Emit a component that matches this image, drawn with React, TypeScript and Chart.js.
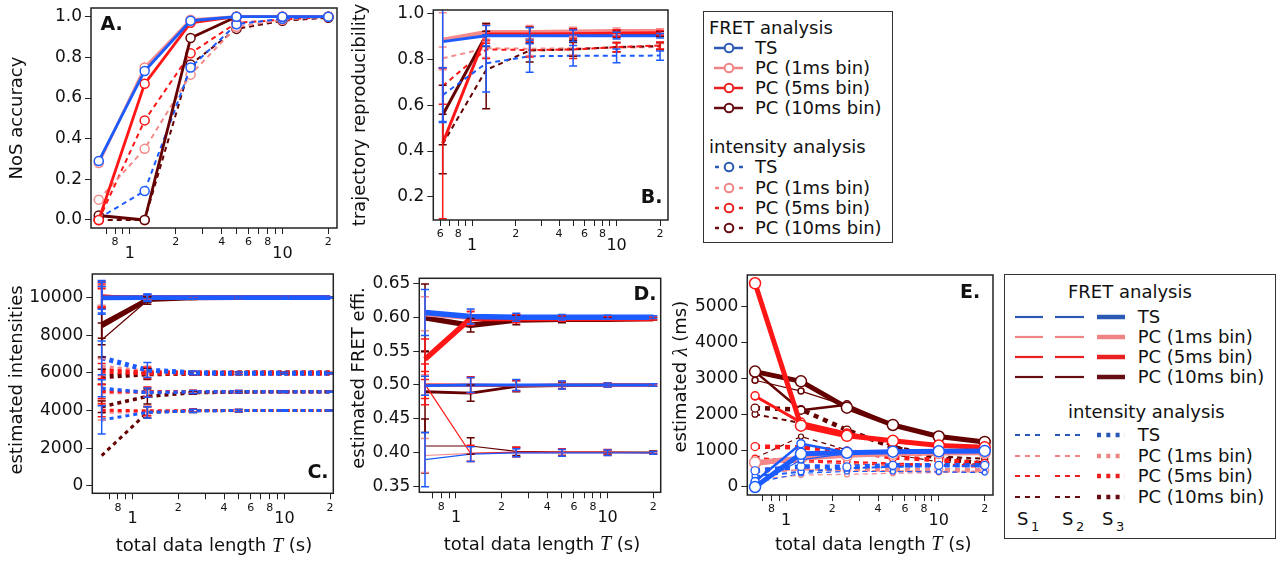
import React, { useEffect, useRef } from 'react';
import { Chart, registerables } from 'chart.js';

Chart.register(...registerables);

const SANS = '"DejaVu Sans", "Liberation Sans", Arial, sans-serif';
const SERIF = '"Liberation Serif", "DejaVu Serif", serif';

// ---------- shared x data ----------
const T_LENGTHS = [0.625, 1.25, 2.5, 5, 10, 20];
const X_TICKS = [0.7, 0.8, 0.9, 1, 2, 3, 4, 5, 6, 7, 8, 9, 10, 20];
const X_TICKS_B = [0.6, 0.7, 0.8, 0.9, 1, 2, 3, 4, 5, 6, 7, 8, 9, 10, 20];
const X_SMALL_LABELS: Record<string, string> = { '0.6': '6', '0.8': '8', '2': '2', '4': '4', '6': '6', '8': '8', '20': '2' };
const X_BIG_LABELS = [1, 10];

const METHODS = ['TS', 'PC (1ms bin)', 'PC (5ms bin)', 'PC (10ms bin)'];
const PLOT_COLORS = ['#1b5bff', '#f58a8a', '#ff1616', '#640000'];
const LEGEND_COLORS = ['#2b59b3', '#f08484', '#ea2020', '#650d12'];

// ---------- Panel A: NoS accuracy ----------
const A_Y_TICKS = [0, 0.2, 0.4, 0.6, 0.8, 1.0];
const ACC_FRET_TS = [0.29, 0.733, 0.98, 1.0, 1.0, 1.0];
const ACC_FRET_PC1 = [0.28, 0.75, 0.985, 1.0, 1.0, 1.0];
const ACC_FRET_PC5 = [0.0, 0.67, 0.97, 1.0, 1.0, 1.0];
const ACC_FRET_PC10 = [0.022, 0.0, 0.895, 1.0, 1.0, 1.0];
const ACC_INT_TS = [0.008, 0.143, 0.75, 0.963, 0.99, 1.0];
const ACC_INT_PC1 = [0.1, 0.35, 0.715, 0.95, 0.985, 1.0];
const ACC_INT_PC5 = [0.0, 0.49, 0.82, 0.97, 0.985, 1.0];
const ACC_INT_PC10 = [0.0, 0.0, 0.765, 0.94, 0.98, 0.995];

// ---------- Panel B: trajectory reproducibility ----------
const B_Y_TICKS = [0.2, 0.4, 0.6, 0.8, 1.0];
const REP_FRET_TS = [0.879, 0.905, 0.905, 0.905, 0.905, 0.905];
const REP_FRET_TS_ERR = [0.35, 0.045, 0.035, 0.025, 0.015, 0.01];
const REP_FRET_PC1 = [0.886, 0.92, 0.92, 0.922, 0.924, 0.925];
const REP_FRET_PC1_ERR = [0.12, 0.04, 0.03, 0.02, 0.015, 0.01];
const REP_FRET_PC5 = [0.434, 0.912, 0.912, 0.914, 0.916, 0.918];
const REP_FRET_PC5_ERR = [0.33, 0.04, 0.03, 0.02, 0.015, 0.01];
const REP_FRET_PC10 = [0.558, 0.908, 0.908, 0.91, 0.912, 0.913];
const REP_FRET_PC10_ERR = [0.13, 0.05, 0.035, 0.025, 0.015, 0.01];
const REP_INT_TS = [0.645, 0.784, 0.815, 0.817, 0.817, 0.818];
const REP_INT_TS_ERR = [0.12, 0.125, 0.07, 0.045, 0.03, 0.02];
const REP_INT_PC1 = [0.806, 0.85, 0.848, 0.85, 0.852, 0.856];
const REP_INT_PC1_ERR = [0.05, 0.04, 0.03, 0.03, 0.02, 0.015];
const REP_INT_PC5 = [0.685, 0.845, 0.842, 0.845, 0.855, 0.862];
const REP_INT_PC5_ERR = [0.08, 0.04, 0.03, 0.04, 0.02, 0.015];
const REP_INT_PC10 = [0.431, 0.755, 0.84, 0.845, 0.855, 0.86];
const REP_INT_PC10_ERR = [0.13, 0.17, 0.05, 0.03, 0.02, 0.015];

// ---------- Panel C: estimated intensities (rows: S1, S2, S3) ----------
const C_Y_TICKS = [0, 2000, 4000, 6000, 8000, 10000];
const C_FRET_TS = [[10000, 10000, 10000, 10000, 10000, 10000], [10020, 10010, 10000, 10000, 10000, 10000], [9990, 10000, 10000, 10000, 10000, 10000]];
const C_FRET_TS_ERR = [[820, 200, 80, 50, 30, 20], [900, 180, 70, 45, 30, 20], [600, 150, 60, 40, 25, 15]];
const C_FRET_PC1 = [[10050, 10000, 10000, 10000, 10000, 10000], [10100, 10000, 10000, 10000, 10000, 10000], [10000, 10000, 10000, 10000, 10000, 10000]];
const C_FRET_PC1_ERR = [[600, 150, 70, 45, 30, 20], [500, 150, 70, 45, 30, 20], [450, 130, 60, 40, 25, 15]];
const C_FRET_PC5 = [[10150, 9980, 10000, 10000, 10000, 10000], [10080, 9990, 10000, 10000, 10000, 10000], [10000, 10000, 10000, 10000, 10000, 10000]];
const C_FRET_PC5_ERR = [[700, 160, 70, 45, 30, 20], [650, 150, 70, 45, 30, 20], [500, 140, 60, 40, 25, 15]];
const C_FRET_PC10 = [[7750, 9850, 9980, 10000, 10000, 10000], [8650, 9950, 10000, 10000, 10000, 10000], [8500, 9900, 9990, 10000, 10000, 10000]];
const C_FRET_PC10_ERR = [[900, 200, 80, 50, 30, 20], [800, 180, 70, 45, 30, 20], [1000, 160, 60, 40, 25, 15]];
const C_INT_TS = [[3500, 3900, 3980, 4000, 4000, 4000], [5180, 4950, 4990, 5000, 5000, 5000], [6800, 6150, 6000, 5980, 5980, 5980]];
const C_INT_TS_ERR = [[750, 300, 90, 60, 40, 30], [450, 250, 80, 60, 40, 30], [900, 400, 100, 70, 50, 30]];
const C_INT_PC1 = [[3900, 3950, 4000, 4000, 4000, 4000], [4950, 4980, 5000, 5000, 5000, 5000], [6300, 6050, 6000, 5990, 5990, 5990]];
const C_INT_PC1_ERR = [[400, 250, 90, 60, 40, 30], [400, 250, 80, 60, 40, 30], [450, 300, 100, 70, 50, 30]];
const C_INT_PC5 = [[4020, 3980, 4000, 4000, 4000, 4000], [5020, 5000, 5000, 5000, 5000, 5000], [6100, 6000, 5990, 5990, 5990, 5990]];
const C_INT_PC5_ERR = [[350, 250, 90, 60, 40, 30], [380, 250, 80, 60, 40, 30], [400, 300, 100, 70, 50, 30]];
const C_INT_PC10 = [[1600, 3900, 3980, 4000, 4000, 4000], [4200, 4750, 4950, 4980, 5000, 5000], [5800, 5950, 5980, 5990, 5990, 5990]];
const C_INT_PC10_ERR = [[0, 300, 90, 60, 40, 30], [300, 400, 80, 60, 40, 30], [400, 300, 100, 70, 50, 30]];

// ---------- Panel D: estimated FRET efficiency (rows: S1, S2, S3) ----------
const D_Y_TICKS = [0.35, 0.4, 0.45, 0.5, 0.55, 0.6, 0.65];
const D_TS = [[0.39, 0.398, 0.4, 0.4, 0.4, 0.4], [0.499, 0.5, 0.5, 0.5, 0.5, 0.5], [0.607, 0.601, 0.6, 0.6, 0.6, 0.6]];
const D_TS_ERR = [[0.04, 0.011, 0.006, 0.005, 0.004, 0.002], [0.014, 0.011, 0.008, 0.006, 0.003, 0.002], [0.034, 0.011, 0.006, 0.004, 0.003, 0.002]];
const D_PC1 = [[0.396, 0.399, 0.4, 0.4, 0.4, 0.4], [0.5, 0.499, 0.499, 0.5, 0.5, 0.5], [0.605, 0.6, 0.599, 0.599, 0.599, 0.599]];
const D_PC1_ERR = [[0.025, 0.011, 0.006, 0.005, 0.004, 0.002], [0.015, 0.011, 0.007, 0.005, 0.003, 0.002], [0.025, 0.01, 0.006, 0.004, 0.003, 0.002]];
const D_PC5 = [[0.501, 0.399, 0.401, 0.401, 0.401, 0.4], [0.5, 0.5, 0.499, 0.5, 0.5, 0.5], [0.538, 0.598, 0.598, 0.598, 0.598, 0.598]];
const D_PC5_ERR = [[0.03, 0.012, 0.007, 0.005, 0.004, 0.002], [0.02, 0.012, 0.008, 0.005, 0.003, 0.002], [0.03, 0.01, 0.006, 0.004, 0.003, 0.002]];
const D_PC10 = [[0.41, 0.41, 0.402, 0.401, 0.401, 0.401], [0.49, 0.488, 0.498, 0.499, 0.5, 0.5], [0.599, 0.588, 0.596, 0.597, 0.597, 0.598]];
const D_PC10_ERR = [[0.04, 0.012, 0.006, 0.005, 0.003, 0.002], [0.06, 0.012, 0.008, 0.005, 0.003, 0.002], [0.05, 0.01, 0.007, 0.005, 0.003, 0.002]];

// ---------- Panel E: estimated lambda in ms (rows: S1, S2, S3) ----------
const E_Y_TICKS = [0, 1000, 2000, 3000, 4000, 5000];
const E_FRET_TS = [[50, 750, 930, 950, 960, 970], [150, 1200, 960, 960, 970, 980], [0, 920, 950, 980, 990, 1000]];
const E_FRET_PC1 = [[600, 760, 850, 890, 910, 920], [620, 780, 860, 900, 920, 930], [680, 800, 880, 920, 940, 950]];
const E_FRET_PC5 = [[2500, 1760, 1480, 1240, 1140, 1080], [2530, 1800, 1500, 1250, 1150, 1100], [5650, 1700, 1420, 1280, 1150, 1100]];
const E_FRET_PC10 = [[2960, 2660, 2250, 1700, 1390, 1230], [3200, 2130, 2280, 1720, 1400, 1240], [3200, 2930, 2200, 1720, 1400, 1250]];
const E_INT_TS = [[120, 380, 430, 430, 420, 400], [300, 420, 520, 560, 580, 590], [450, 570, 560, 600, 600, 600]];
const E_INT_PC1 = [[200, 330, 350, 380, 400, 420], [400, 470, 450, 440, 430, 430], [480, 520, 500, 480, 470, 460]];
const E_INT_PC5 = [[650, 700, 650, 600, 580, 550], [800, 740, 700, 650, 620, 600], [1120, 1100, 1000, 820, 750, 650]];
const E_INT_PC10 = [[800, 1400, 1030, 900, 700, 620], [2020, 1770, 1500, 1150, 850, 780], [2190, 2150, 1580, 1100, 800, 650]];

// ---------- helpers ----------
function line(values: number[], color: string, width: number, opts: any = {}) {
  return {
    data: values.map((y, i) => ({ x: T_LENGTHS[i], y })),
    borderColor: color,
    backgroundColor: '#ffffff',
    borderWidth: width,
    borderDash: opts.dash || [],
    borderCapStyle: 'butt',
    borderJoinStyle: 'round',
    pointRadius: opts.radius || 0,
    pointBorderWidth: opts.pointBorder || 1.5,
    pointBorderColor: color,
    pointBackgroundColor: '#ffffff',
    fill: false,
    tension: 0,
    errors: opts.errors,
  };
}

const framePlugin = {
  id: 'frame',
  afterDraw(chart: any) {
    const { ctx, chartArea: a } = chart;
    ctx.save();
    ctx.strokeStyle = '#222';
    ctx.lineWidth = 1.5;
    ctx.setLineDash([]);
    ctx.strokeRect(a.left, a.top, a.right - a.left, a.bottom - a.top);
    ctx.restore();
  },
};

const errorBarPlugin = {
  id: 'errorBars',
  afterDatasetsDraw(chart: any) {
    const { ctx, chartArea: a, scales } = chart;
    const xs = scales.x;
    const ys = scales.y;
    ctx.save();
    ctx.beginPath();
    ctx.rect(a.left, a.top, a.right - a.left, a.bottom - a.top);
    ctx.clip();
    ctx.setLineDash([]);
    for (let i = chart.data.datasets.length - 1; i >= 0; i--) {
      const d = chart.data.datasets[i];
      if (!d.errors) continue;
      ctx.strokeStyle = d.borderColor;
      ctx.lineWidth = 1.5;
      d.data.forEach((p: any, j: number) => {
        const e = d.errors[j];
        if (!e) return;
        const x = xs.getPixelForValue(p.x);
        const y1 = ys.getPixelForValue(p.y - e);
        const y2 = ys.getPixelForValue(p.y + e);
        ctx.beginPath();
        ctx.moveTo(x, y1);
        ctx.lineTo(x, y2);
        ctx.moveTo(x - 4, y1);
        ctx.lineTo(x + 4, y1);
        ctx.moveTo(x - 4, y2);
        ctx.lineTo(x + 4, y2);
        ctx.stroke();
      });
    }
    ctx.restore();
  },
};

function drawRich(ctx: any, segs: any[], cx: number, cy: number, rotate: boolean) {
  ctx.save();
  ctx.translate(cx, cy);
  if (rotate) ctx.rotate(-Math.PI / 2);
  const fonts = segs.map((s) => (s.italic ? `italic 20px ${SERIF}` : `18px ${SANS}`));
  let total = 0;
  const widths = segs.map((s, i) => {
    ctx.font = fonts[i];
    const w = ctx.measureText(s.text).width;
    total += w;
    return w;
  });
  let x = -total / 2;
  ctx.textAlign = 'left';
  ctx.textBaseline = 'middle';
  ctx.fillStyle = '#111';
  segs.forEach((s, i) => {
    ctx.font = fonts[i];
    ctx.fillText(s.text, x, 0);
    x += widths[i];
  });
  ctx.restore();
}

const X_TITLE = [{ text: 'total data length ' }, { text: 'T', italic: true }, { text: ' (s)' }];

function textPlugin(spec: any) {
  return {
    id: 'panelText',
    afterDraw(chart: any) {
      const ctx = chart.ctx;
      const ox = spec.canvas.left;
      const oy = spec.canvas.top;
      const xs = chart.scales.x;
      const bottom = chart.chartArea.bottom;
      ctx.save();
      ctx.fillStyle = '#111';
      ctx.textAlign = 'center';
      ctx.textBaseline = 'middle';
      ctx.font = `16px ${SANS}`;
      X_BIG_LABELS.forEach((v) => ctx.fillText(String(v), xs.getPixelForValue(v), bottom + 26));
      ctx.font = `bold 19px ${SANS}`;
      ctx.fillText(spec.letter.text, spec.letter.x - ox, spec.letter.y - oy);
      ctx.restore();
      drawRich(ctx, spec.yTitle, spec.yTitlePos.x - ox, spec.yTitlePos.y - oy, true);
      if (spec.xTitlePos) drawRich(ctx, X_TITLE, spec.xTitlePos.x - ox, spec.xTitlePos.y - oy, false);
    },
  };
}

function buildConfig(spec: any) {
  const c = spec.canvas;
  const p = spec.plot;
  const yAxisW = p.left - c.left;
  const xAxisH = c.top + c.height - p.bottom;
  return {
    type: 'line',
    data: { datasets: spec.datasets },
    options: {
      responsive: false,
      animation: false,
      devicePixelRatio: 1,
      events: [],
      layout: { padding: { left: 0, top: p.top - c.top, right: c.left + c.width - p.right, bottom: 0 } },
      plugins: { legend: { display: false }, tooltip: { enabled: false } },
      scales: {
        x: {
          type: 'logarithmic',
          min: spec.xMin,
          max: spec.xMax,
          afterBuildTicks: (s: any) => {
            s.ticks = spec.xTicks.map((v: number) => ({ value: v }));
          },
          afterFit: (s: any) => {
            s.height = xAxisH;
            s.paddingLeft = 0;
            s.paddingRight = 0;
          },
          ticks: {
            autoSkip: false,
            maxRotation: 0,
            minRotation: 0,
            padding: 2,
            color: '#111',
            font: { family: SANS, size: 11 },
            callback: (v: number) => X_SMALL_LABELS[String(v)] ?? '',
          },
          grid: { display: true, drawOnChartArea: false, drawTicks: true, tickLength: 6, color: '#222', lineWidth: 1 },
          border: { display: false },
        },
        y: {
          type: 'linear',
          min: spec.yMin,
          max: spec.yMax,
          afterBuildTicks: (s: any) => {
            s.ticks = spec.yTicks.map((v: number) => ({ value: v }));
          },
          afterFit: (s: any) => {
            s.width = yAxisW;
            s.paddingTop = 0;
            s.paddingBottom = 0;
          },
          ticks: {
            padding: 3,
            color: '#111',
            font: { family: SANS, size: 17 },
            callback: (v: number) => spec.yFmt(v),
          },
          grid: { display: true, drawOnChartArea: false, drawTicks: true, tickLength: 6, color: '#222', lineWidth: 1 },
          border: { display: false },
        },
      },
    },
    plugins: [framePlugin, errorBarPlugin, textPlugin(spec)],
  };
}

// ---------- dataset assembly ----------
const [BLUE, LIGHT, RED, DARK] = PLOT_COLORS;
const DASH = [5, 4];

const datasetsA = [
  line(ACC_FRET_TS, BLUE, 2.8, { radius: 4.5 }),
  line(ACC_FRET_PC1, LIGHT, 2.8, { radius: 4.5 }),
  line(ACC_FRET_PC5, RED, 2.8, { radius: 4.5 }),
  line(ACC_FRET_PC10, DARK, 2.8, { radius: 4.5 }),
  line(ACC_INT_TS, BLUE, 2, { radius: 4.5, dash: DASH }),
  line(ACC_INT_PC1, LIGHT, 2, { radius: 4.5, dash: DASH }),
  line(ACC_INT_PC5, RED, 2, { radius: 4.5, dash: DASH }),
  line(ACC_INT_PC10, DARK, 2, { radius: 4.5, dash: DASH }),
];

const datasetsB = [
  line(REP_FRET_TS, BLUE, 3, { errors: REP_FRET_TS_ERR }),
  line(REP_INT_TS, BLUE, 2, { dash: DASH, errors: REP_INT_TS_ERR }),
  line(REP_FRET_PC5, RED, 3, { errors: REP_FRET_PC5_ERR }),
  line(REP_FRET_PC10, DARK, 3, { errors: REP_FRET_PC10_ERR }),
  line(REP_FRET_PC1, LIGHT, 4.5, { errors: REP_FRET_PC1_ERR }),
  line(REP_INT_PC5, RED, 2, { dash: DASH, errors: REP_INT_PC5_ERR }),
  line(REP_INT_PC10, DARK, 2, { dash: DASH, errors: REP_INT_PC10_ERR }),
  line(REP_INT_PC1, LIGHT, 2, { dash: DASH, errors: REP_INT_PC1_ERR }),
];

const STATE_W_SOLID = [1.2, 2.5, 4.8];
const C_DOT_W = [3, 3.5, 5];

function stateSets(rows: number[][], errs: number[][] | null, color: string, widths: number[], opts: (s: number) => any) {
  return [2, 1, 0].map((s) => line(rows[s], color, widths[s], { ...opts(s), errors: errs ? errs[s] : undefined }));
}

const datasetsC = [
  ...stateSets(C_FRET_TS, C_FRET_TS_ERR, BLUE, STATE_W_SOLID, () => ({})),
  ...stateSets(C_INT_TS, C_INT_TS_ERR, BLUE, C_DOT_W, () => ({ dash: [4, 4] })),
  ...stateSets(C_FRET_PC5, C_FRET_PC5_ERR, RED, STATE_W_SOLID, () => ({})),
  ...stateSets(C_FRET_PC1, C_FRET_PC1_ERR, LIGHT, STATE_W_SOLID, () => ({})),
  ...stateSets(C_FRET_PC10, C_FRET_PC10_ERR, DARK, STATE_W_SOLID, () => ({})),
  ...stateSets(C_INT_PC5, C_INT_PC5_ERR, RED, C_DOT_W, () => ({ dash: [4, 4] })),
  ...stateSets(C_INT_PC10, C_INT_PC10_ERR, DARK, C_DOT_W, () => ({ dash: [4, 4] })),
  ...stateSets(C_INT_PC1, C_INT_PC1_ERR, LIGHT, C_DOT_W, () => ({ dash: [4, 4] })),
];

const D_W = [1.2, 2.8, 5.5];
const datasetsD = [
  ...stateSets(D_TS, D_TS_ERR, BLUE, D_W, () => ({})),
  ...stateSets(D_PC5, D_PC5_ERR, RED, D_W, () => ({})),
  ...stateSets(D_PC1, D_PC1_ERR, LIGHT, D_W, () => ({})),
  ...stateSets(D_PC10, D_PC10_ERR, DARK, D_W, () => ({})),
];

const E_SOLID_W = [1.2, 2.5, 5];
const E_DOT_W = [1.2, 2, 4.5];
const E_R_SOLID = [3, 4, 5.5];
const E_R_DOT = [2.5, 3, 4];
const eDotOpts = (s: number) => ({ dash: s === 2 ? [5, 5] : [5, 4], radius: E_R_DOT[s], pointBorder: 1.2 });
const eSolidOpts = (s: number) => ({ radius: E_R_SOLID[s], pointBorder: 1.5 });

const datasetsE = [
  ...stateSets(E_FRET_TS, null, BLUE, E_SOLID_W, eSolidOpts),
  ...stateSets(E_FRET_PC5, null, RED, E_SOLID_W, eSolidOpts),
  ...stateSets(E_FRET_PC10, null, DARK, E_SOLID_W, eSolidOpts),
  ...stateSets(E_INT_TS, null, BLUE, E_DOT_W, eDotOpts),
  ...stateSets(E_FRET_PC1, null, LIGHT, E_SOLID_W, eSolidOpts),
  ...stateSets(E_INT_PC5, null, RED, E_DOT_W, eDotOpts),
  ...stateSets(E_INT_PC10, null, DARK, E_DOT_W, eDotOpts),
  ...stateSets(E_INT_PC1, null, LIGHT, E_DOT_W, eDotOpts),
];

const fmt1 = (v: number) => v.toFixed(1);
const fmt2 = (v: number) => v.toFixed(2);
const fmt0 = (v: number) => String(Math.round(v));

const SPECS = [
  {
    key: 'A',
    canvas: { left: 0, top: 0, width: 345, height: 262 },
    plot: { left: 91, top: 8, right: 337, bottom: 228 },
    xMin: 0.556, xMax: 22.8, xTicks: X_TICKS,
    yMin: -0.0394, yMax: 1.0428, yTicks: A_Y_TICKS, yFmt: fmt1,
    letter: { text: 'A.', x: 111.7, y: 25 },
    yTitle: [{ text: 'NoS accuracy' }], yTitlePos: { x: 17, y: 118 },
    xTitlePos: null,
    datasets: datasetsA,
  },
  {
    key: 'B',
    canvas: { left: 345, top: 0, width: 335, height: 262 },
    plot: { left: 433.3, top: 10, right: 668, bottom: 220 },
    xMin: 0.538, xMax: 22.7, xTicks: X_TICKS_B,
    yMin: 0.098, yMax: 1.0175, yTicks: B_Y_TICKS, yFmt: fmt1,
    letter: { text: 'B.', x: 651.7, y: 198 },
    yTitle: [{ text: 'trajectory reproducibility' }], yTitlePos: { x: 360, y: 115 },
    xTitlePos: null,
    datasets: datasetsB,
  },
  {
    key: 'C',
    canvas: { left: 0, top: 262, width: 345, height: 300 },
    plot: { left: 92.3, top: 274, right: 333.3, bottom: 493.3 },
    xMin: 0.542, xMax: 21.0, xTicks: X_TICKS,
    yMin: -404, yMax: 11261, yTicks: C_Y_TICKS, yFmt: fmt0,
    letter: { text: 'C.', x: 318, y: 473 },
    yTitle: [{ text: 'estimated intensities' }], yTitlePos: { x: 17, y: 380 },
    xTitlePos: { x: 214, y: 546.7 },
    datasets: datasetsC,
  },
  {
    key: 'D',
    canvas: { left: 345, top: 262, width: 320, height: 300 },
    plot: { left: 419.3, top: 278.3, right: 660.7, bottom: 492.3 },
    xMin: 0.573, xMax: 22.4, xTicks: X_TICKS,
    yMin: 0.3417, yMax: 0.6574, yTicks: D_Y_TICKS, yFmt: fmt2,
    letter: { text: 'D.', x: 645, y: 295 },
    yTitle: [{ text: 'estimated FRET effi.' }], yTitlePos: { x: 359.3, y: 378 },
    xTitlePos: { x: 542, y: 545 },
    datasets: datasetsD,
  },
  {
    key: 'E',
    canvas: { left: 665, top: 262, width: 335, height: 300 },
    plot: { left: 747.3, top: 275, right: 993.3, bottom: 495 },
    xMin: 0.556, xMax: 22.66, xTicks: X_TICKS,
    yMin: -222, yMax: 5880, yTicks: E_Y_TICKS, yFmt: fmt0,
    letter: { text: 'E.', x: 970, y: 293 },
    yTitle: [{ text: 'estimated ' }, { text: 'λ', italic: true }, { text: ' (ms)' }], yTitlePos: { x: 681.7, y: 376.7 },
    xTitlePos: { x: 873.3, y: 545 },
    datasets: datasetsE,
  },
];

function Panel({ spec }: { spec: any }) {
  const ref = useRef<HTMLCanvasElement | null>(null);
  useEffect(() => {
    const chart = new Chart(ref.current as any, buildConfig(spec) as any);
    return () => chart.destroy();
  }, []);
  const c = spec.canvas;
  return (
    <canvas
      ref={ref}
      width={c.width}
      height={c.height}
      style={{ position: 'absolute', left: c.left, top: c.top, width: c.width, height: c.height }}
    />
  );
}

function Txt({ x, y, children, size = 18 }: any) {
  return (
    <div
      style={{
        position: 'absolute', left: x, top: y - 11, height: 22, lineHeight: '22px',
        fontSize: size, fontFamily: SANS, color: '#111', whiteSpace: 'nowrap',
      }}
    >
      {children}
    </div>
  );
}

const LEG1_ROWS_FRET = [48.3, 68.3, 88.3, 108.3];
const LEG1_ROWS_INT = [166.7, 187.7, 208.3, 228.3];

function LegendTop() {
  return (
    <>
      <div style={{ position: 'absolute', left: 703, top: 11, width: 190, height: 232, border: '1.5px solid #333', boxSizing: 'border-box' }} />
      <Txt x={709} y={28.3}>FRET analysis</Txt>
      {METHODS.map((m, i) => (
        <React.Fragment key={'f' + m}>
          <svg style={{ position: 'absolute', left: 711, top: LEG1_ROWS_FRET[i] - 7 }} width={36} height={14}>
            <line x1={3} y1={7} x2={32} y2={7} stroke={LEGEND_COLORS[i]} strokeWidth={2.5} />
            <circle cx={18} cy={7} r={4.3} fill="#fff" stroke={LEGEND_COLORS[i]} strokeWidth={2} />
          </svg>
          <Txt x={755} y={LEG1_ROWS_FRET[i]}>{m}</Txt>
        </React.Fragment>
      ))}
      <Txt x={709} y={146.7}>intensity analysis</Txt>
      {METHODS.map((m, i) => (
        <React.Fragment key={'i' + m}>
          <svg style={{ position: 'absolute', left: 711, top: LEG1_ROWS_INT[i] - 7 }} width={36} height={14}>
            <line x1={4} y1={7} x2={8} y2={7} stroke={LEGEND_COLORS[i]} strokeWidth={2.5} />
            <line x1={28} y1={7} x2={32} y2={7} stroke={LEGEND_COLORS[i]} strokeWidth={2.5} />
            <circle cx={18} cy={7} r={4.3} fill="#fff" stroke={LEGEND_COLORS[i]} strokeWidth={2} />
          </svg>
          <Txt x={755} y={LEG1_ROWS_INT[i]}>{m}</Txt>
        </React.Fragment>
      ))}
    </>
  );
}

const LEG2_ROWS_FRET = [316.7, 336.5, 356.5, 377.3];
const LEG2_ROWS_INT = [435, 456, 476, 496.7];
const LEG2_COLS = [[3, 31], [43, 72], [85, 113]];
const LEG2_STATE_LABELS = [
  { n: '1', x: 1017 },
  { n: '2', x: 1062 },
  { n: '3', x: 1102 },
];

function LegendBottom() {
  return (
    <>
      <div style={{ position: 'absolute', left: 1004, top: 274, width: 272, height: 265, border: '1.5px solid #333', boxSizing: 'border-box' }} />
      <Txt x={1068} y={291.7}>FRET analysis</Txt>
      {METHODS.map((m, i) => (
        <React.Fragment key={'f' + m}>
          <svg style={{ position: 'absolute', left: 1012, top: LEG2_ROWS_FRET[i] - 5 }} width={116} height={10}>
            {LEG2_COLS.map(([a, b], k) => (
              <line key={k} x1={a} y1={5} x2={b} y2={5} stroke={LEGEND_COLORS[i]} strokeWidth={k === 2 ? 4.5 : 2.2} />
            ))}
          </svg>
          <Txt x={1137.7} y={LEG2_ROWS_FRET[i]}>{m}</Txt>
        </React.Fragment>
      ))}
      <Txt x={1068} y={411.7}>intensity analysis</Txt>
      {METHODS.map((m, i) => (
        <React.Fragment key={'i' + m}>
          <svg style={{ position: 'absolute', left: 1012, top: LEG2_ROWS_INT[i] - 5 }} width={116} height={10}>
            {LEG2_COLS.map(([a, b], k) => (
              <line
                key={k} x1={a} y1={5} x2={b} y2={5} stroke={LEGEND_COLORS[i]}
                strokeWidth={k === 2 ? 4.5 : 2.2} strokeDasharray={k === 2 ? '4 5.3' : '5 5'}
              />
            ))}
          </svg>
          <Txt x={1137.7} y={LEG2_ROWS_INT[i]}>{m}</Txt>
        </React.Fragment>
      ))}
      {LEG2_STATE_LABELS.map((s) => (
        <React.Fragment key={s.n}>
          <Txt x={s.x} y={519}>S</Txt>
          <Txt x={s.x + 14} y={527} size={13}>{s.n}</Txt>
        </React.Fragment>
      ))}
    </>
  );
}

export default function App() {
  return (
    <div style={{ position: 'absolute', left: 0, top: 0, width: 1283, height: 562, background: '#fff', overflow: 'hidden' }}>
      {SPECS.map((s) => (
        <Panel key={s.key} spec={s} />
      ))}
      <LegendTop />
      <LegendBottom />
    </div>
  );
}
